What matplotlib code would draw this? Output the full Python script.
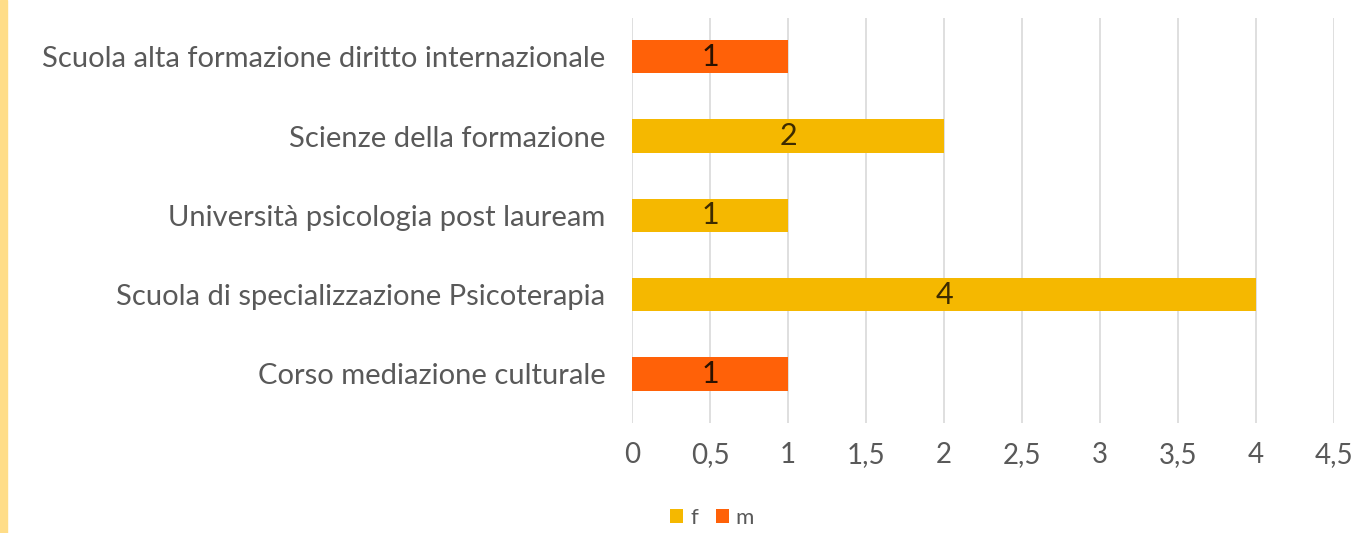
import matplotlib.pyplot as plt
import numpy as np

# dati (dal basso verso l'alto)
categorie = ['Corso mediazione culturale',
             'Scuola di specializzazione Psicoterapia',
             'Università psicologia post lauream',
             'Scienze della formazione',
             'Scuola alta formazione diritto internazionale']
f_vals = [0, 4, 1, 2, 0]
m_vals = [1, 0, 0, 0, 1]
x_ticks = [0, 0.5, 1, 1.5, 2, 2.5, 3, 3.5, 4, 4.5]
x_labels = ['0', '0,5', '1', '1,5', '2', '2,5', '3', '3,5', '4', '4,5']

COL_F = '#F5B800'
COL_M = '#FF6108'
GRIGIO = '#595959'

plt.rcParams['font.family'] = ['Lato', 'DejaVu Sans']

fig = plt.figure(figsize=(13.6, 5.33), dpi=100)
ax = fig.add_axes([632 / 1360, 1 - 423 / 533, (1334 - 632) / 1360, (423 - 18) / 533])

y = np.arange(len(categorie))
bf = ax.barh(y, f_vals, height=0.42, color=COL_F, label='f', zorder=3)
bm = ax.barh(y, m_vals, left=f_vals, height=0.42, color=COL_M, label='m', zorder=3)

# etichette dati
for i in range(len(categorie)):
    if f_vals[i] > 0:
        ax.text(f_vals[i] / 2, y[i], str(f_vals[i]), ha='center', va='center',
                fontsize=22, color='#3d2b00', zorder=4)
    if m_vals[i] > 0:
        ax.text(f_vals[i] + m_vals[i] / 2, y[i], str(m_vals[i]), ha='center', va='center',
                fontsize=22, color='#2b1200', zorder=4)

ax.set_xlim(0, 4.5)
ax.set_ylim(-0.62, 4.49)
ax.set_xticks(x_ticks)
ax.set_xticklabels(x_labels)
ax.set_yticks(y)
ax.set_yticklabels(categorie)
ax.tick_params(axis='y', length=0, pad=19, labelsize=21, labelcolor=GRIGIO)
ax.tick_params(axis='x', length=0, pad=14, labelsize=20, labelcolor=GRIGIO)
ax.grid(axis='x', color='#D9D9D9', linewidth=1.2, zorder=0)
for s in ax.spines.values():
    s.set_visible(False)

fig.legend(handles=[bf, bm], labels=['f', 'm'], loc='center', bbox_to_anchor=(712 / 1360, 1 - 518 / 533),
           ncol=2, frameon=False, fontsize=16, labelcolor=GRIGIO, handlelength=0.6, handleheight=0.6,
           handletextpad=0.3, columnspacing=0.8)

# striscia gialla a sinistra
fig.patches.append(plt.Rectangle((0, 0), 7 / 1360, 1, transform=fig.transFigure,
                                 color='#FFDD88', zorder=0))

fig.savefig('out.png', dpi=100, facecolor='white')
